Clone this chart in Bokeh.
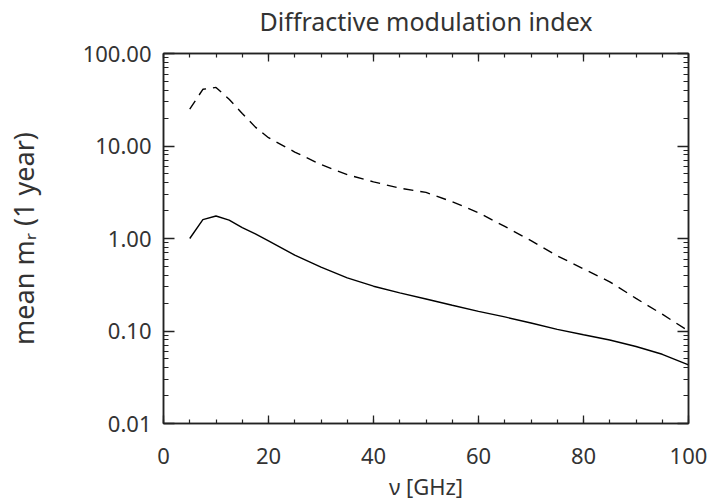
from bokeh.plotting import figure
from bokeh.models import Range1d, FixedTicker, PrintfTickFormatter, LinearAxis, LogAxis, CustomJSTickFormatter
from bokeh.embed import file_html
from bokeh.resources import INLINE

# ---- data ----
freq = [5, 7.5, 10, 12.5, 15, 17.5, 20, 25, 30, 35, 40, 45, 50, 55, 60, 65, 70, 75, 80, 85, 90, 95, 100]
mean_solid = [1.0, 1.6, 1.75, 1.58, 1.31, 1.12, 0.94, 0.66, 0.49, 0.375, 0.305, 0.258, 0.222, 0.19, 0.163,
              0.142, 0.122, 0.104, 0.091, 0.080, 0.068, 0.056, 0.043]
mean_dashed = [25.0, 41.0, 43.0, 32.0, 22.5, 16.0, 12.3, 8.6, 6.3, 4.9, 4.1, 3.5, 3.15, 2.5, 1.9,
               1.35, 0.95, 0.65, 0.47, 0.34, 0.225, 0.152, 0.10]

x_major = [0, 20, 40, 60, 80, 100]
x_minor = [v for v in range(0, 101, 5)]
y_major = [0.01, 0.1, 1.0, 10.0, 100.0]
y_minor = [m * d for d in [0.01, 0.1, 1.0, 10.0] for m in range(1, 10)]

title_text = "Diffractive modulation index"
x_label = "\u03bd [GHz]"
y_label = "mean m\u1d63 (1 year)"

FONT = "Noto Sans"
TXT = "#333333"

p = figure(width=713, height=503, y_axis_type="log", output_backend="svg", toolbar_location=None,
           x_range=Range1d(0, 100), y_range=Range1d(0.01, 100),
           min_border_left=163, min_border_right=25, min_border_top=52, min_border_bottom=80)

p.xgrid.visible = False
p.ygrid.visible = False
p.outline_line_color = "#222222"
p.outline_line_width = 1.5

p.line(freq, mean_solid, line_color="black", line_width=1.4)
p.line(freq, mean_dashed, line_color="black", line_width=1.4, line_dash="10 7")

def style_axis(ax, tick_in, minor_in):
    ax.axis_line_color = "#222222"
    ax.axis_line_width = 1.5
    ax.major_tick_in = tick_in
    ax.major_tick_out = 0
    ax.minor_tick_in = minor_in
    ax.minor_tick_out = 0
    ax.major_tick_line_color = "#222222"
    ax.minor_tick_line_color = "#222222"
    ax.major_tick_line_width = 1.3
    ax.minor_tick_line_width = 1.2
    ax.major_label_text_font = FONT
    ax.major_label_text_font_size = "22px"
    ax.major_label_text_color = TXT
    ax.axis_label_text_font = FONT
    ax.axis_label_text_font_size = "22px"
    ax.axis_label_text_font_style = "normal"
    ax.axis_label_text_color = TXT

xa = p.xaxis[0]
xa.ticker = FixedTicker(ticks=x_major, minor_ticks=x_minor)
style_axis(xa, 8, 4)
xa.axis_label = x_label
xa.major_label_standoff = 24
xa.axis_label_standoff = 4

ya = p.yaxis[0]
ya.ticker = FixedTicker(ticks=y_major, minor_ticks=y_minor)
ya.formatter = PrintfTickFormatter(format="%.2f")
style_axis(ya, 11, 5)
ya.axis_label = y_label
ya.axis_label_text_font_size = "27px"
ya.major_label_standoff = 12
ya.axis_label_standoff = 38

blank = CustomJSTickFormatter(code="return '';")
# top mirror axis; its axis label carries the chart title
top = LinearAxis(ticker=FixedTicker(ticks=x_major, minor_ticks=x_minor), formatter=blank)
style_axis(top, 8, 4)
top.axis_label = title_text
top.axis_label_text_font_size = "25px"
top.axis_label_standoff = 16
p.add_layout(top, "above")

right = LogAxis(ticker=FixedTicker(ticks=y_major, minor_ticks=y_minor), formatter=blank)
style_axis(right, 11, 5)
p.add_layout(right, "right")

open("out.html", "w").write(file_html(p, INLINE))
